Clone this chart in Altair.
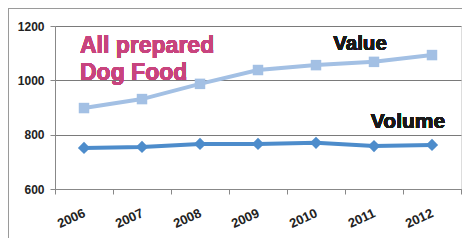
import altair as alt
import pandas as pd

years = ["2006", "2007", "2008", "2009", "2010", "2011", "2012"]
value = [898, 931, 987, 1038, 1056, 1068, 1093]
volume = [751, 755, 766, 766, 770, 758, 762]

df = pd.DataFrame({
    "year": years * 2,
    "amount": value + volume,
    "series": ["Value"] * len(years) + ["Volume"] * len(years),
})

FONT = "Liberation Sans"
W, H = 406, 163

x = alt.X("year:O", scale=alt.Scale(type="band", paddingInner=0, paddingOuter=0),
          axis=alt.Axis(title=None, labelAngle=-25, labelAlign="right", labelBaseline="middle",
                        labelPadding=18, labelFont=FONT, labelFontSize=13, labelFontWeight="bold",
                        labelColor="#222", tickBand="extent", tickSize=5, tickColor="#888",
                        domainColor="#888", grid=False))
y = alt.Y("amount:Q", scale=alt.Scale(domain=[600, 1200], nice=False, zero=False),
          axis=alt.Axis(title=None, values=[600, 800, 1000, 1200], format="d",
                        labelFont=FONT, labelFontSize=12, labelFontWeight="bold", labelColor="#222",
                        labelPadding=6, tickSize=5, tickColor="#888", domainColor="#888",
                        grid=True, gridColor="#7a7a7a", gridWidth=1))

val = alt.Chart(df).transform_filter(alt.datum.series == "Value")
vol = alt.Chart(df).transform_filter(alt.datum.series == "Volume")

val_line = val.mark_line(color="#a3c0e4", strokeWidth=4).encode(x=x, y=y)
val_pts = val.mark_point(shape="square", filled=True, size=110, color="#a3c0e4", opacity=1).encode(x=x, y=y)
vol_line = vol.mark_line(color="#4d8ccb", strokeWidth=4).encode(x=x, y=y)
vol_pts = vol.mark_point(shape="diamond", filled=True, size=150, color="#4d8ccb", opacity=1).encode(x=x, y=y)

def txt(s, px, py, color, size, align="left"):
    return alt.Chart(df).mark_text(text=s, font=FONT, fontSize=size, fontWeight="bold",
                                   color=color, align=align, baseline="alphabetic").encode(
        x=alt.value(px), y=alt.value(py))

t1 = txt("All prepared", 25, 27, "#c8447e", 23)
t2 = txt("Dog Food", 25, 54, "#c8447e", 23)
t3 = txt("Value", 305, 24, "#1a1a1a", 20.5, "center")
t4 = txt("Volume", 353, 102, "#1a1a1a", 21, "center")

border_top = alt.Chart(df).mark_rule(color="#9a9a9a", strokeWidth=1).encode(
    x=alt.value(-47), x2=alt.value(W + 10), y=alt.value(-18))
border_left = alt.Chart(df).mark_rule(color="#9a9a9a", strokeWidth=1).encode(
    x=alt.value(-47), y=alt.value(-18), y2=alt.value(H + 60))

chart = alt.layer(border_top, border_left, val_line, val_pts, vol_line, vol_pts, t1, t2, t3, t4).properties(
    width=W, height=H, autosize=alt.AutoSizeParams(type="none"),
    padding={"left": 47, "top": 18, "right": 1, "bottom": 49},
).configure_view(stroke=None).configure(background="white")

chart.save("out.html", embed_options={"renderer": "svg", "actions": False})
